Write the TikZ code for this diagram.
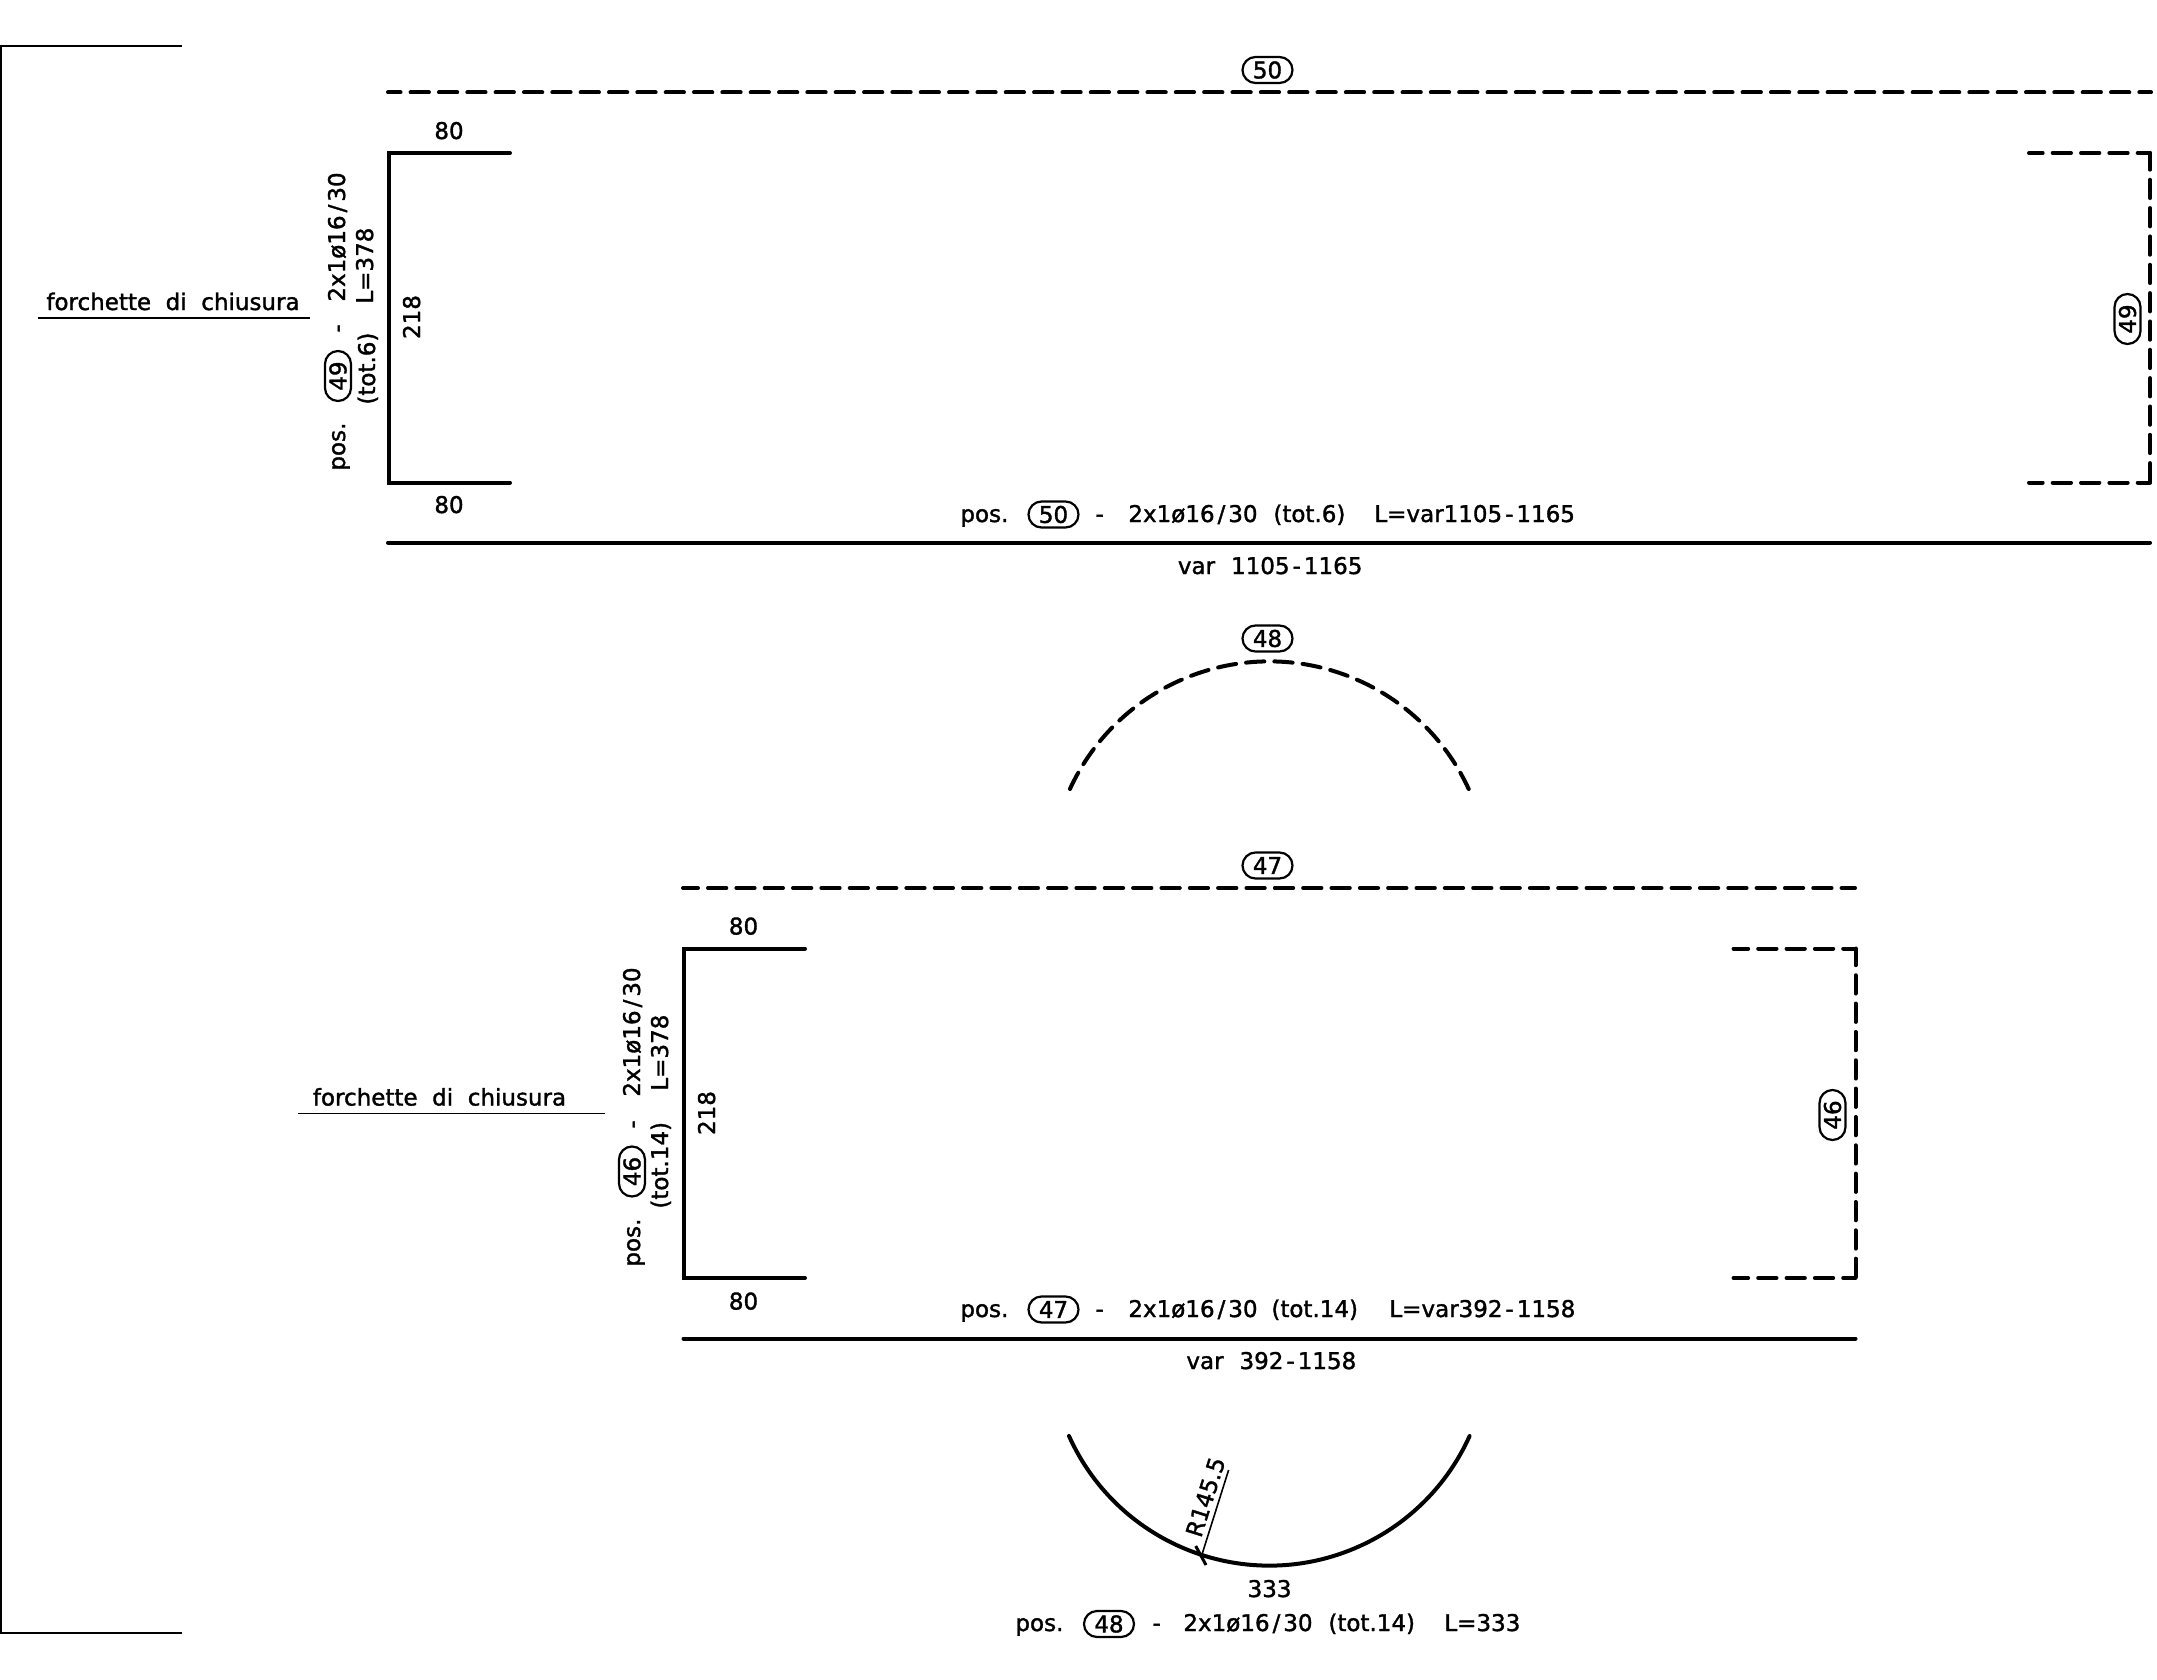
\documentclass[tikz,border=0pt]{standalone}
\usepackage{fontspec}
\setmainfont[FakeBold=1.5]{DejaVu Sans}
\usetikzlibrary{shapes.misc}

\newcommand{\dsh}{\kern1.5pt-\kern1.5pt}
\newcommand{\sla}{\kern1.5pt/\kern1.5pt}

\tikzset{
	txt/.style={inner sep=0pt,font=\fontsize{11.5}{13}\selectfont},
	lbl/.style={txt,anchor=base west},
	vlbl/.style={txt,anchor=base west,rotate=90},
	tag/.style={txt,draw,rounded rectangle,line width=1.1pt,minimum width=25pt,minimum height=13pt},
	bar/.style={line width=2pt,line cap=round,line join=miter},
	dashbar/.style={bar,dash pattern=on 9.15pt off 5.02pt},
	thinline/.style={line width=0.8pt}
}

\begin{document}
\begin{tikzpicture}[x=0.5pt,y=-0.5pt]
	\useasboundingbox (0,0) rectangle (2157,1680);

	\draw[thinline] (182,46) -- (1,46) -- (1,1633) -- (182,1633);

	\node (t50) at (1267.5,70) [tag]{50};
	\draw[dashbar,dash phase=2.87pt] (388,92.5) -- (2151,92.5);
	\node (a80) at (449,139) [txt,anchor=base]{80};
	\draw[bar] (510,153) -- (389,153) -- (389,482.5) -- (510,482.5);
	\node (b80) at (449,513) [txt,anchor=base]{80};
	\draw[dashbar,dash phase=3pt] (2150,153) -- (2029,153);
	\draw[dashbar,dash phase=0.8pt] (2150,153) -- (2150,482.5);
	\draw[dashbar,dash phase=3pt] (2150,482.5) -- (2029,482.5);
	\node (t49b) at (2127.5,319) [tag,rotate=90]{49};
	\node (l218) at (420,317) [txt,anchor=base,rotate=90]{218};

	\node (p49) at (345,471) [vlbl]{pos.};
	\node (t49) at (338,376) [tag,rotate=90]{49};
	\node (d49) at (345,333) [vlbl]{-};
	\node (s49) at (345,302) [vlbl]{2x1ø16\sla30};
	\node (q49) at (375,405) [vlbl]{(tot.6)};
	\node (e49) at (373,304) [vlbl]{L=378};

	\node (fa) at (46,310) [lbl]{forchette\ \ di\ \ chiusura};
	\draw[thinline] (38,318) -- (310,318);

	\node (p50) at (960,522) [lbl]{pos.};
	\node (t50b) at (1053.5,514.5) [tag]{50};
	\node (d50) at (1095,522) [lbl]{-};
	\node (s50) at (1128,522) [lbl]{2x1ø16\sla30};
	\node (q50) at (1273,522) [lbl]{(tot.6)};
	\node (e50) at (1374,522) [lbl]{L=var1105\dsh1165};
	\draw[bar] (388,542.5) -- (2150,542.5);
	\node (v50) at (1177.5,574) [lbl]{var\hspace{8pt}1105\dsh1165};

	\node (t48) at (1267.5,638.5) [tag]{48};
	\draw[dashbar,dash phase=13.07pt] (1069,791) arc[start angle=204.2,end angle=335.8,radius=219.6];

	\node (t47) at (1267.5,865.5) [tag]{47};
	\draw[dashbar,dash phase=1.67pt] (683,888) -- (1855,888);
	\node (c80) at (743.5,934.5) [txt,anchor=base]{80};
	\draw[bar] (805,948.5) -- (683.5,948.5) -- (683.5,1278) -- (805,1278);
	\node (d80) at (743.5,1309.5) [txt,anchor=base]{80};
	\draw[dashbar,dash phase=3pt] (1855.5,948.5) -- (1733.5,948.5);
	\draw[dashbar,dash phase=0.8pt] (1855.5,948.5) -- (1855.5,1278);
	\draw[dashbar,dash phase=3pt] (1855.5,1278) -- (1733.5,1278);
	\node (t46b) at (1832.5,1115) [tag,rotate=90]{46};
	\node (m218) at (715,1113) [txt,anchor=base,rotate=90]{218};

	\node (p46) at (640,1267) [vlbl]{pos.};
	\node (t46) at (632,1171.5) [tag,rotate=90]{46};
	\node (d46) at (640,1129) [vlbl]{-};
	\node (s46) at (640,1097) [vlbl]{2x1ø16\sla30};
	\node (q46) at (668,1209) [vlbl]{(tot.14)};
	\node (e46) at (668,1091) [vlbl]{L=378};

	\node (fb) at (312.5,1105.5) [lbl]{forchette\ \ di\ \ chiusura};
	\draw[thinline] (298,1113.5) -- (605,1113.5);

	\node (p47) at (960,1317) [lbl]{pos.};
	\node (t47b) at (1053.5,1309.5) [tag]{47};
	\node (d47) at (1095,1317) [lbl]{-};
	\node (s47) at (1128,1317) [lbl]{2x1ø16\sla30};
	\node (q47) at (1271,1317) [lbl]{(tot.14)};
	\node (e47) at (1389,1317) [lbl]{L=var392\dsh1158};
	\draw[bar] (683.5,1338.5) -- (1855.5,1338.5);
	\node (v47) at (1186,1369) [lbl]{var\hspace{8pt}392\dsh1158};

	\draw[bar] (1069,1436) arc[start angle=155.8,end angle=24.2,radius=219.6];
	\draw[thinline] (1228.6,1470) -- (1201.8,1555);
	\draw[line width=1.5pt] (1195.7,1546) -- (1206,1565);
	\node (r48) at (1205.5,1497) [txt,rotate=72.5]{R145.5};
	\node (l333) at (1269.6,1597) [txt,anchor=base]{333};

	\node (p48) at (1015,1631) [lbl]{pos.};
	\node (t48b) at (1109,1624) [tag]{48};
	\node (d48) at (1152,1631) [lbl]{-};
	\node (s48) at (1183,1631) [lbl]{2x1ø16\sla30};
	\node (q48) at (1328,1631) [lbl]{(tot.14)};
	\node (e48) at (1444,1631) [lbl]{L=333};
\end{tikzpicture}
\end{document}
